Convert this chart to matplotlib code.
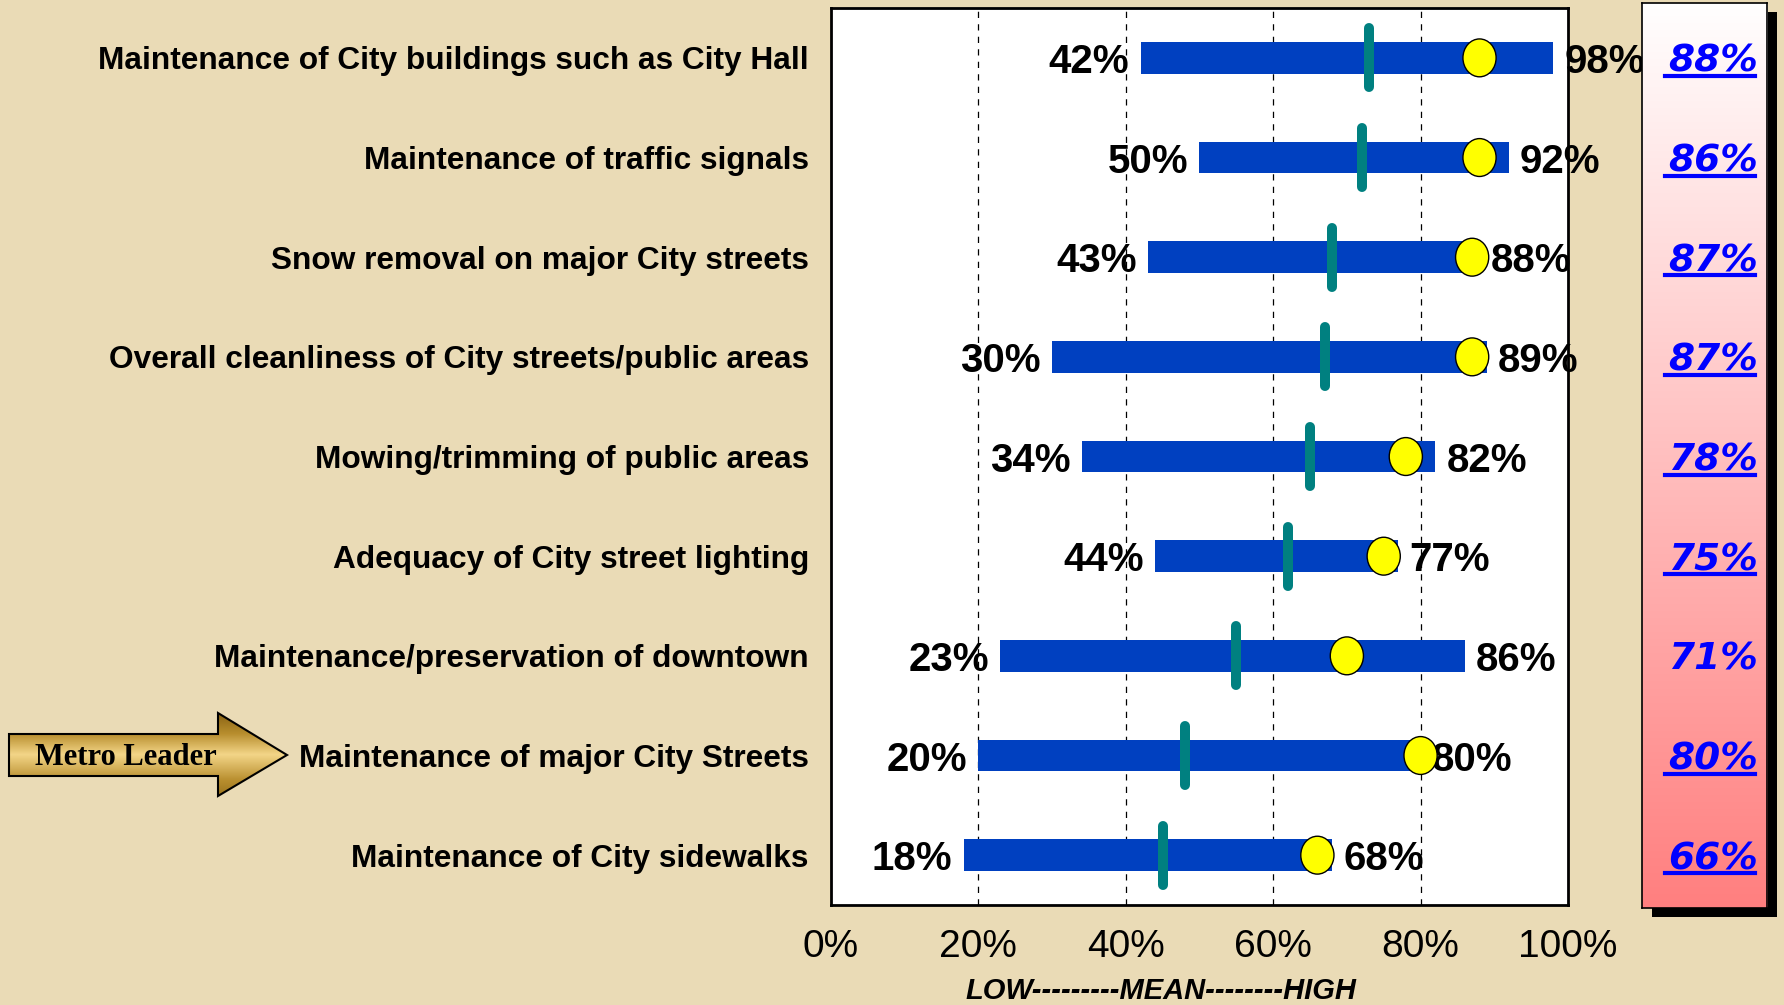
import numpy as np
import matplotlib.pyplot as plt
from matplotlib.patches import Ellipse, Polygon, Rectangle
from matplotlib.colors import LinearSegmentedColormap
from matplotlib.transforms import blended_transform_factory

# data (top row first)
categories = [
    "Maintenance of City buildings such as City Hall",
    "Maintenance of traffic signals",
    "Snow removal on major City streets",
    "Overall cleanliness of City streets/public areas",
    "Mowing/trimming of public areas",
    "Adequacy of City street lighting",
    "Maintenance/preservation of downtown",
    "Maintenance of major City Streets",
    "Maintenance of City sidewalks",
]
low = [42, 50, 43, 30, 34, 44, 23, 20, 18]
high = [98, 92, 88, 89, 82, 77, 86, 80, 68]
mean = [73, 72, 68, 67, 65, 62, 55, 48, 45]
dot = [88, 88, 87, 87, 78, 75, 70, 80, 66]
city = [88, 86, 87, 87, 78, 75, 71, 80, 66]
underlined = [True, True, True, True, True, True, False, True, True]
xticks = [0, 20, 40, 60, 80, 100]

BG = "#EADBB6"
SANS = "Liberation Sans"

fig = plt.figure(figsize=(17.84, 10.05), dpi=100, facecolor=BG)
ax = fig.add_axes([0.4658, 0.0995, 0.4131, 0.8925])
ax.set_facecolor("white")

y = np.arange(len(categories))
ax.barh(y, np.array(high) - np.array(low), left=low, height=0.32,
        color="#0040C0", zorder=2)
ax.vlines(mean, y - 0.295, y + 0.295, color="#008080", lw=7.2,
          capstyle="round", zorder=3)
for yi, d in zip(y, dot):
    ax.add_patch(Ellipse((d, yi), width=4.5, height=0.38, fc="#FFFF00",
                         ec="black", lw=1, zorder=4))

for yi, lo, hi in zip(y, low, high):
    ax.annotate(f"{lo}%", (lo, yi), xytext=(-8, 0), textcoords="offset points",
                ha="right", va="center_baseline", fontsize=29, fontweight="bold",
                family=SANS, annotation_clip=False)
    ax.annotate(f"{hi}%", (hi, yi), xytext=(8, 0), textcoords="offset points",
                ha="left", va="center_baseline", fontsize=29, fontweight="bold",
                family=SANS, annotation_clip=False)

ax.set_xlim(0, 100)
ax.set_ylim(len(categories) - 0.5, -0.5)
ax.set_xticks(xticks)
ax.set_xticklabels([f"{t}%" for t in xticks], fontsize=28, family=SANS)
ax.set_yticks(y)
ax.set_yticklabels(categories, fontsize=22.8, fontweight="bold", family=SANS)
ax.tick_params(length=0)
ax.tick_params(axis="x", pad=17)
ax.tick_params(axis="y", pad=16)
for t in xticks[1:-1]:
    ax.axvline(t, color="black", lw=0.9, ls=(0, (5, 5)), zorder=1)
for s in ax.spines.values():
    s.set_linewidth(2)

fig.text(0.6505, 0.014, "LOW---------MEAN--------HIGH", ha="center", va="center",
         fontsize=21, fontweight="bold", style="italic", family=SANS)

# right panel with gradient and shadow
px0, py0, pw, ph = 0.9204, 0.0965, 0.0701, 0.9005
fig.patches.append(Rectangle((px0 + 0.0056, py0 - 0.009), pw, ph,
                             transform=fig.transFigure, fc="black", ec="none", zorder=-1))
pax = fig.add_axes([px0, py0, pw, ph])
grad = np.linspace(0, 1, 256).reshape(-1, 1)
pax.imshow(grad, aspect="auto", extent=(0, 1, 0, 1), origin="upper",
           cmap=LinearSegmentedColormap.from_list("pk", ["#FFFFFF", "#FF7F7F"]))
pax.set_xticks([])
pax.set_yticks([])
for s in pax.spines.values():
    s.set_linewidth(1.2)

tr = blended_transform_factory(fig.transFigure, ax.transData)
ptexts = []
for yi, c in zip(y, city):
    ptexts.append(fig.text(0.9600, yi, f"{c}%", transform=tr, ha="center",
                           va="center_baseline", fontsize=27, fontweight="bold",
                           style="italic", color="#0000FF", family="DejaVu Sans"))
fig.canvas.draw()
r = fig.canvas.get_renderer()
for t, u in zip(ptexts, underlined):
    if u:
        bb = t.get_window_extent(r)
        fig.lines.append(plt.Line2D([bb.x0 - 3, bb.x1 - 3], [bb.y0 + 4, bb.y0 + 4],
                                    transform=None, color="#0000FF", lw=3))

# Metro Leader arrow
oax = fig.add_axes([0, 0, 1, 1], zorder=-0.5)
oax.set_xlim(0, 1784)
oax.set_ylim(1005, 0)
oax.axis("off")
pts = [(9, 734), (218, 734), (218, 713), (287, 755), (218, 796),
       (218, 776), (9, 776)]
poly = Polygon(pts, closed=True, fc="none", ec="black", lw=1.5, zorder=3)
oax.add_patch(poly)
g = np.concatenate([np.linspace(0, 1, 60), np.linspace(1, 0.2, 60)]).reshape(-1, 1)
gold = LinearSegmentedColormap.from_list("gold", ["#8A6414", "#B88E2E", "#F2D486"])
im = oax.imshow(g, cmap=gold, extent=(9, 287, 796, 713), aspect="auto", zorder=2)
im.set_clip_path(poly)
oax.text(126, 757, "Metro Leader", ha="center", va="center", fontsize=22,
         fontweight="bold", family=["Liberation Serif", "DejaVu Serif"], zorder=4)

fig.savefig("out.png", dpi=100, facecolor=BG)
